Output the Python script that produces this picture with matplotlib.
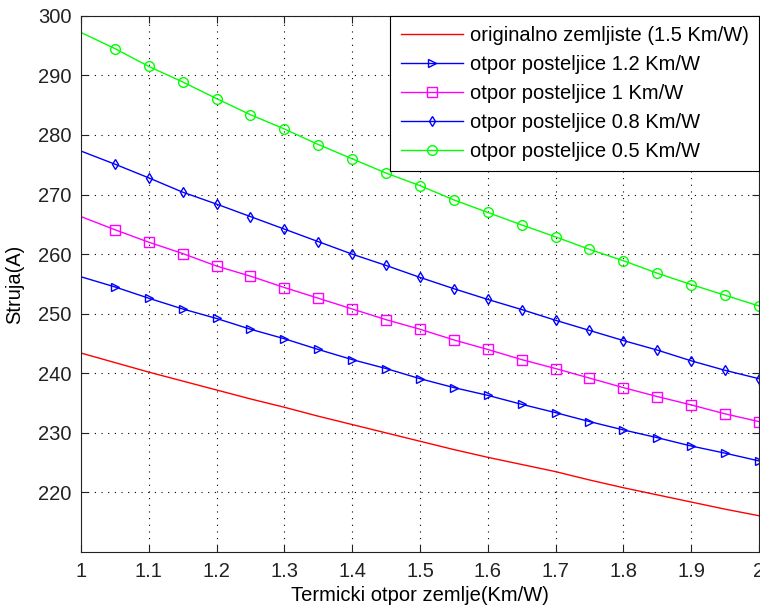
import matplotlib
matplotlib.use("Agg")
import matplotlib.pyplot as plt
import numpy as np

plt.rcParams['font.family'] = ['Liberation Sans', 'DejaVu Sans']

# thermal resistance of soil (Km/W)
x = [1.00, 1.05, 1.10, 1.15, 1.20, 1.25, 1.30, 1.35, 1.40, 1.45, 1.50,
     1.55, 1.60, 1.65, 1.70, 1.75, 1.80, 1.85, 1.90, 1.95, 2.00]

orig = [243.4, 241.8, 240.2, 238.7, 237.2, 235.7, 234.3, 232.8, 231.4, 230.0, 228.6,
        227.2, 225.9, 224.7, 223.5, 222.1, 220.8, 219.6, 218.4, 217.2, 216.1]
p12 = [256.2, 254.5, 252.6, 250.8, 249.2, 247.4, 245.8, 244.0, 242.3, 240.8, 239.1,
       237.6, 236.3, 234.8, 233.4, 231.9, 230.5, 229.2, 227.8, 226.6, 225.3]
p10 = [266.3, 264.1, 262.0, 260.1, 258.0, 256.3, 254.4, 252.6, 250.8, 249.0, 247.4,
       245.6, 244.0, 242.3, 240.8, 239.2, 237.6, 236.1, 234.7, 233.2, 231.9]
p08 = [277.3, 275.1, 272.8, 270.4, 268.4, 266.3, 264.2, 262.1, 260.0, 258.1, 256.1,
       254.2, 252.4, 250.7, 248.9, 247.2, 245.5, 243.9, 242.1, 240.5, 239.1]
p05 = [297.2, 294.5, 291.5, 288.9, 286.1, 283.4, 281.0, 278.4, 276.0, 273.6, 271.5,
       269.1, 267.0, 264.9, 262.9, 260.8, 258.9, 256.8, 254.9, 253.1, 251.3]

labels = ['originalno zemljiste (1.5 Km/W)',
          'otpor posteljice 1.2 Km/W',
          'otpor posteljice 1 Km/W',
          'otpor posteljice 0.8 Km/W',
          'otpor posteljice 0.5 Km/W']

fs = 14.5

fig = plt.figure(figsize=(7.6, 6.08), dpi=100)
ax = fig.add_axes([0.1066, 0.092, 0.892, 0.882])

me = slice(1, None)
ax.plot(x, orig, color='red', lw=1, label=labels[0])
ax.plot(x, p12, color='blue', lw=1, marker='>', ms=6, mfc='none', markevery=me, label=labels[1])
ax.plot(x, p10, color='magenta', lw=1, marker='s', ms=7, mfc='none', markevery=me, label=labels[2])
ax.plot(x, p08, color='blue', lw=1, marker='d', ms=5.5, mfc='none', markevery=me, label=labels[3])
ax.plot(x, p05, color='#00ff00', lw=1, marker='o', ms=7, mfc='none', markevery=me, label=labels[4])

ax.set_xlim(1, 2)
ax.set_ylim(210, 300)
ax.set_xticks(np.arange(1, 2.01, 0.1))
ax.set_xticklabels(['1', '1.1', '1.2', '1.3', '1.4', '1.5', '1.6', '1.7', '1.8', '1.9', '2'])
ax.set_yticks(np.arange(220, 301, 10))
ax.grid(True, color='black', linestyle=(0, (1, 5)), lw=0.8)
ax.tick_params(direction='in', top=True, right=True, length=5, labelsize=fs,
               colors='#222222', pad=7)
for s in ax.spines.values():
    s.set_color('#222222')
ax.set_xlabel('Termicki otpor zemlje(Km/W)', fontsize=fs, labelpad=4)
ax.set_ylabel('Struja(A)', fontsize=fs, labelpad=10)

leg = ax.legend(loc='upper right', bbox_to_anchor=(1, 1), borderaxespad=0, fancybox=False,
                edgecolor='black', framealpha=1, fontsize=fs, handlelength=3.1,
                labelspacing=0.5, borderpad=0.5, handletextpad=0.35)
leg.get_frame().set_linewidth(0.8)

fig.savefig('out.png', dpi=100)
